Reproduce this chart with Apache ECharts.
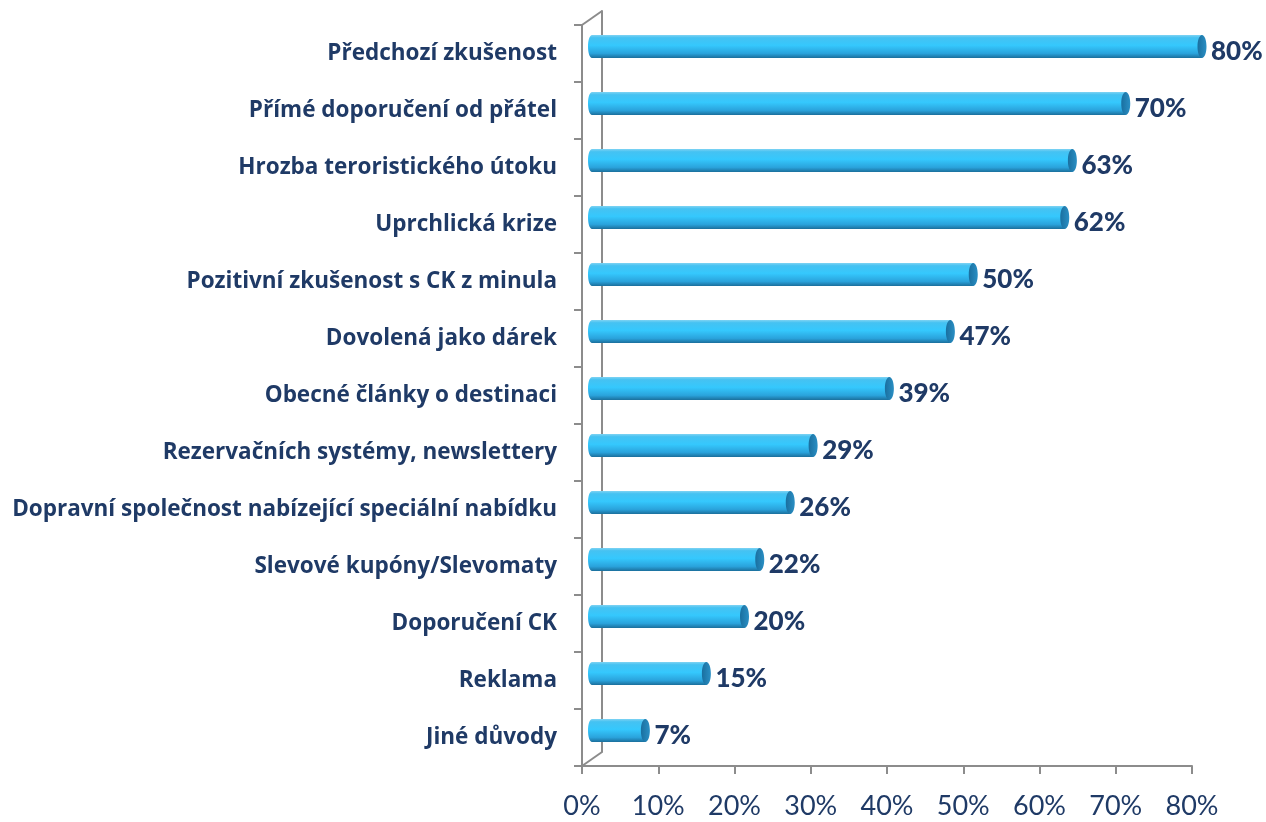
<!DOCTYPE html>
<html><head><meta charset="utf-8">
<script src="https://cdn.jsdelivr.net/npm/echarts@6/dist/echarts.min.js"></script>
<style>html,body{margin:0;padding:0;background:#fff}#c{width:1266px;height:822px}</style>
</head><body><div id="c"></div>
<script>
const categories = [
  'Předchozí zkušenost',
  'Přímé doporučení od přátel',
  'Hrozba teroristického útoku',
  'Uprchlická krize',
  'Pozitivní zkušenost s CK z minula',
  'Dovolená jako dárek',
  'Obecné články o destinaci',
  'Rezervačních systémy, newslettery',
  'Dopravní společnost nabízející speciální nabídku',
  'Slevové kupóny/Slevomaty',
  'Doporučení CK',
  'Reklama',
  'Jiné důvody'
];
const values = [80, 70, 63, 62, 50, 47, 39, 29, 26, 22, 20, 15, 7];
const xTicks = [0, 10, 20, 30, 40, 50, 60, 70, 80];

const NAVY = '#1F3A66';
const AXIS = '#8c8c8c';
const DX = 10, DY = -7, BH = 23;

const chart = echarts.init(document.getElementById('c'), null, {renderer: 'canvas'});

function renderItem(params, api) {
  const idx = api.value(0);
  const v = api.value(1);
  const p0 = api.coord([0, idx]);
  const p1 = api.coord([v, idx]);
  const x0 = p0[0] + DX, x1 = p1[0] + DX, yc = p0[1] + DY;
  const grad = new echarts.graphic.LinearGradient(0, 0, 0, 1, [
    {offset: 0, color: '#7fd3f3'},
    {offset: 0.12, color: '#45c2f2'},
    {offset: 0.45, color: '#35c8fd'},
    {offset: 0.8, color: '#2aa3dc'},
    {offset: 1, color: '#1b6f9c'}
  ]);
  const capGrad = new echarts.graphic.LinearGradient(0, 0, 1, 0, [
    {offset: 0, color: '#1a6f9f'},
    {offset: 1, color: '#2a8fc4'}
  ]);
  return {
    type: 'group',
    children: [
      {type: 'ellipse', shape: {cx: x0, cy: yc, rx: 4, ry: BH / 2}, style: {fill: grad}},
      {type: 'rect', shape: {x: x0, y: yc - BH / 2, width: x1 - x0, height: BH}, style: {fill: grad}},
      {type: 'ellipse', shape: {cx: x1, cy: yc, rx: 4.5, ry: BH / 2}, style: {fill: capGrad}},
      {type: 'text', style: {x: x1 + 9, y: yc + 5, text: v + '%', fill: NAVY,
        font: '900 26px Lato, sans-serif', textVerticalAlign: 'middle', textAlign: 'left'}}
    ]
  };
}

const option = {
  animation: false,
  grid: [
    {left: 582, top: 25, width: 610, height: 741},
    {left: 602, top: 11, width: 610, height: 741}
  ],
  xAxis: [
    {type: 'value', gridIndex: 0, min: 0, max: 80, interval: 10,
      axisLine: {show: true, lineStyle: {color: AXIS, width: 2}},
      axisTick: {show: true, length: 8, lineStyle: {color: AXIS, width: 2}},
      splitLine: {show: false},
      axisLabel: {formatter: v => xTicks.indexOf(v) >= 0 ? v + '%' : '', color: NAVY,
        fontSize: 27, fontFamily: 'Lato, sans-serif', margin: 27}},
    {type: 'value', gridIndex: 1, min: 0, max: 80, show: false}
  ],
  yAxis: [
    {type: 'category', gridIndex: 0, data: categories, inverse: true,
      axisLine: {show: true, lineStyle: {color: AXIS, width: 2}},
      axisTick: {show: true, length: 8, lineStyle: {color: AXIS, width: 2}},
      axisLabel: {color: NAVY, fontWeight: 'bold', fontSize: 22.5, margin: 25,
        fontFamily: '"Open Sans", sans-serif'}},
    {type: 'category', gridIndex: 1, data: categories, inverse: true,
      axisLine: {show: true, lineStyle: {color: AXIS, width: 2}},
      axisTick: {show: false}, axisLabel: {show: false}}
  ],
  series: [{
    type: 'custom', xAxisIndex: 0, yAxisIndex: 0,
    renderItem: renderItem,
    encode: {x: 1, y: 0},
    data: values.map((v, i) => [i, v])
  }]
};
chart.setOption(option);

// 3D frame diagonals connecting front and back axes
const g0 = chart.getModel().getComponent('grid', 0).coordinateSystem.getRect();
const g1 = chart.getModel().getComponent('grid', 1).coordinateSystem.getRect();
chart.setOption({graphic: [
  {type: 'line', shape: {x1: g0.x, y1: g0.y, x2: g1.x, y2: g1.y}, style: {stroke: AXIS, lineWidth: 2}},
  {type: 'line', shape: {x1: g0.x, y1: g0.y + g0.height, x2: g1.x, y2: g1.y + g1.height}, style: {stroke: AXIS, lineWidth: 2}}
]});
</script></body></html>
